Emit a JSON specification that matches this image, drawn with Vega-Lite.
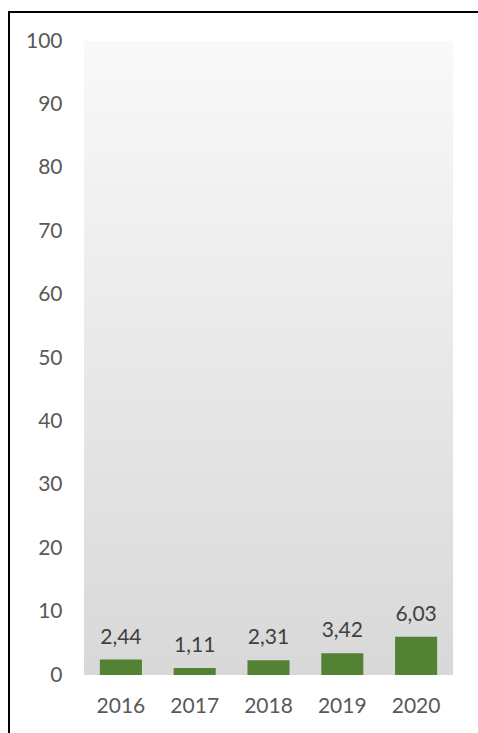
{
  "$schema": "https://vega.github.io/schema/vega-lite/v6.json",
  "autosize": {"type": "none"},
  "padding": {"left": 9, "top": 12, "right": -2, "bottom": -2},
  "width": 471,
  "height": 723,
  "background": "white",
  "config": {
    "view": {"stroke": "#000000", "strokeWidth": 2},
    "font": "Lato",
    "locale": {"number": {"decimal": ",", "thousands": ".", "grouping": [3], "currency": ["", " €"]}},
    "axisY": {"domain": false, "ticks": false, "grid": false, "labelFontSize": 21, "labelColor": "#595959", "labelPadding": 22, "offset": -75, "title": null, "labelBaseline": "middle"},
    "axisX": {"domain": false, "ticks": false, "grid": false, "labelFontSize": 21, "labelColor": "#595959", "labelPadding": 20, "offset": -60, "title": null, "labelAngle": 0}
  },
  "data": {"values": [
    {"year": "2016", "value": 2.44},
    {"year": "2017", "value": 1.11},
    {"year": "2018", "value": 2.31},
    {"year": "2019", "value": 3.42},
    {"year": "2020", "value": 6.03}
  ]},
  "layer": [
    {
      "data": {"values": [{"part": "plot area"}]},
      "mark": {"type": "rect", "color": {"gradient": "linear", "x1": 0, "y1": 0, "x2": 0, "y2": 1, "stops": [{"offset": 0, "color": "#f9f9f9"}, {"offset": 1, "color": "#d8d8d8"}]}},
      "encoding": {
        "x": {"datum": 0, "type": "quantitative", "scale": {"domain": [0, 1], "range": [75, 444]}, "axis": null},
        "x2": {"datum": 1},
        "y": {"datum": 0, "type": "quantitative", "scale": {"domain": [0, 100], "range": [663, 29], "nice": false, "zero": true}, "axis": {"values": [0, 10, 20, 30, 40, 50, 60, 70, 80, 90, 100]}},
        "y2": {"datum": 100}
      }
    },
    {
      "encoding": {
        "x": {"field": "year", "type": "nominal", "scale": {"range": [75, 444], "paddingInner": 0.43, "paddingOuter": 0.215}},
        "y": {"field": "value", "type": "quantitative", "axis": {"values": [0, 10, 20, 30, 40, 50, 60, 70, 80, 90, 100]}}
      },
      "layer": [
        {"mark": {"type": "bar", "color": "#548235"}},
        {
          "mark": {"type": "text", "fontSize": 21, "color": "#404040", "baseline": "alphabetic", "dy": -16},
          "encoding": {"text": {"field": "value", "type": "quantitative", "format": ".2f"}}
        }
      ]
    }
  ],
  "resolve": {"scale": {"x": "independent"}, "axis": {"x": "independent"}}
}
